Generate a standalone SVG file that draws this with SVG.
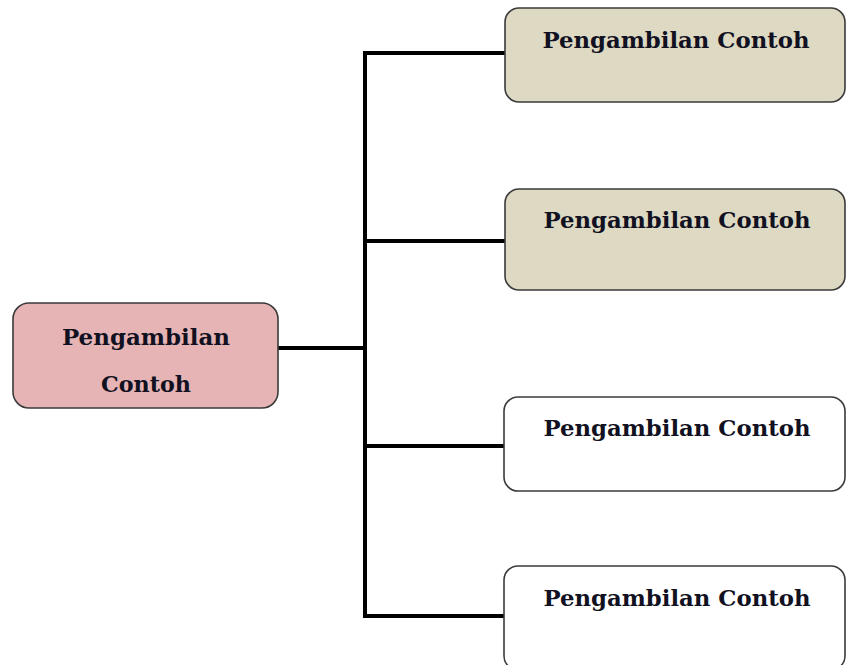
<svg xmlns="http://www.w3.org/2000/svg" width="846" height="665" viewBox="0 0 846 665">
<style>
.box{stroke:#3a3a3a;stroke-width:1.6}
.pink{fill:#e6b4b4}
.tan{fill:#ddd9c3}
.white{fill:#ffffff}
.lbl{font-family:"DejaVu Serif","Liberation Serif",serif;font-weight:bold;font-size:22.5px;fill:#111122;text-anchor:middle}
.conn{stroke:#000;stroke-width:4;fill:none}
</style>
<rect width="846" height="665" fill="#fff"/>
<g id="connectors">
<path class="conn" d="M278 348 H365"/>
<path class="conn" d="M365 52 V616"/>
<path class="conn" d="M363 53 H505"/>
<path class="conn" d="M365 241 H505"/>
<path class="conn" d="M365 446 H505"/>
<path class="conn" d="M363 616 H505"/>
</g>
<g id="root">
<rect class="box pink" x="13" y="303" width="265" height="105" rx="16"/>
<text class="lbl" x="146" y="345" textLength="168" lengthAdjust="spacingAndGlyphs">Pengambilan</text>
<text class="lbl" x="146" y="392" textLength="90" lengthAdjust="spacingAndGlyphs">Contoh</text>
</g>
<g id="n1">
<rect class="box tan" x="505" y="8" width="340" height="94" rx="14"/>
<text class="lbl" x="676" y="48" textLength="267" lengthAdjust="spacingAndGlyphs">Pengambilan Contoh</text>
</g>
<g id="n2">
<rect class="box tan" x="505" y="189" width="340" height="101" rx="14"/>
<text class="lbl" x="677" y="228" textLength="267" lengthAdjust="spacingAndGlyphs">Pengambilan Contoh</text>
</g>
<g id="n3">
<rect class="box white" x="504" y="397" width="341" height="94" rx="14"/>
<text class="lbl" x="677" y="436" textLength="267" lengthAdjust="spacingAndGlyphs">Pengambilan Contoh</text>
</g>
<g id="n4">
<rect class="box white" x="504" y="566" width="341" height="104" rx="14"/>
<text class="lbl" x="677" y="606" textLength="267" lengthAdjust="spacingAndGlyphs">Pengambilan Contoh</text>
</g>
</svg>
